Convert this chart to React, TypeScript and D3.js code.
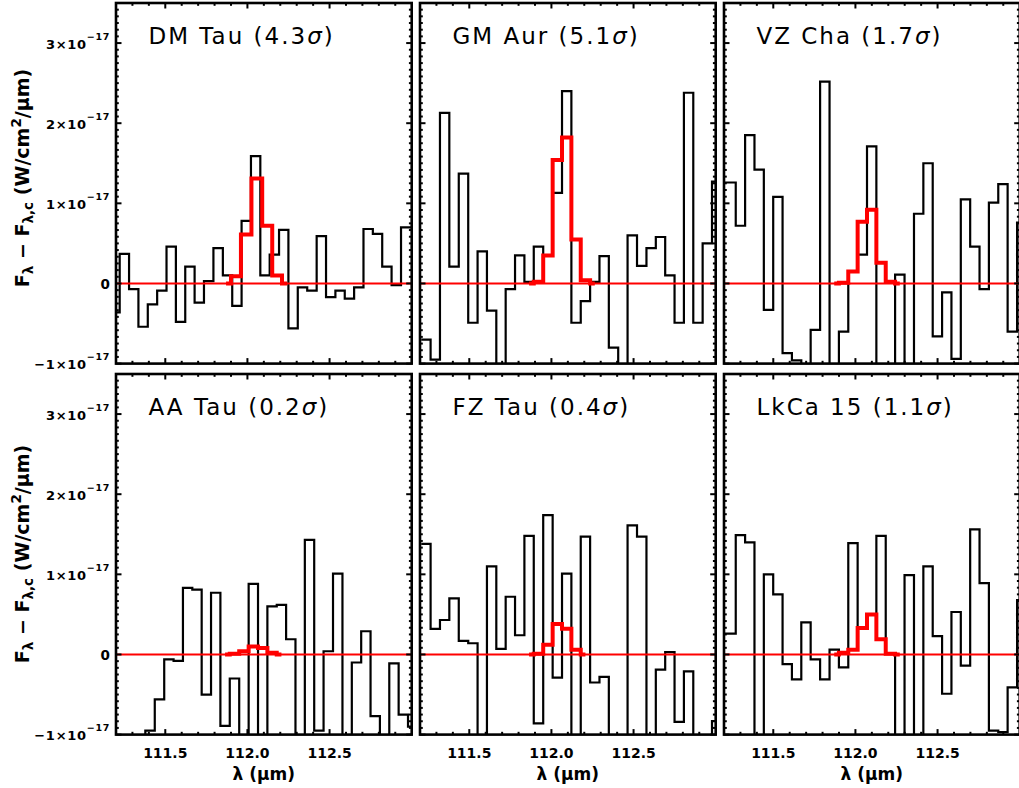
import React from "react";
import * as d3 from "d3";

// ---------- data (flux in units of 1e-17 W/cm^2/um) ----------
const waveDMTau = [111.194, 111.251, 111.308, 111.365, 111.422, 111.479, 111.536, 111.593, 111.650, 111.707, 111.764, 111.822, 111.879, 111.936, 111.993, 112.050, 112.107, 112.164, 112.221, 112.278, 112.335, 112.393, 112.450, 112.507, 112.564, 112.621, 112.678, 112.735, 112.792, 112.849, 112.906, 112.964, 113.021];
const fluxDMTau = [-0.36, 0.37, -0.07, -0.54, -0.26, -0.09, 0.46, -0.48, 0.21, -0.24, 0.03, 0.44, 0.10, -0.28, 0.78, 1.59, 0.10, 0.36, 0.67, -0.56, -0.05, -0.09, 0.59, -0.17, -0.09, -0.19, -0.05, 0.68, 0.62, 0.21, -0.02, 0.70, 0.70];
const modelWaveDMTau = [111.870, 111.930, 111.991, 112.058, 112.122, 112.180, 112.241];
const modelDMTau = [0, 0.09, 0.61, 1.31, 0.72, 0.10, 0];

const waveGridA = [111.236, 111.293, 111.350, 111.407, 111.465, 111.522, 111.579, 111.636, 111.693, 111.750, 111.807, 111.864, 111.921, 111.979, 112.036, 112.093, 112.150, 112.207, 112.264, 112.321, 112.378, 112.435, 112.492, 112.550, 112.607, 112.664, 112.721, 112.778, 112.835, 112.892, 112.949, 113.006];
const fluxGMAur = [-0.70, -0.95, 2.13, 0.21, 1.37, -0.49, 0.40, -0.34, -1.30, -0.07, 0.35, 0.02, 0.46, 0.35, 1.13, 2.40, -0.49, -0.22, 0.02, 0.34, -0.80, -1.30, 0.60, 0.22, 0.44, 0.58, 0.10, -0.49, 2.38, -0.49, 0.50, 1.27];
const modelWaveGMAur = [111.864, 111.921, 111.979, 112.036, 112.093, 112.150, 112.207, 112.264];
const modelGMAur = [0, 0.02, 0.35, 1.54, 1.82, 0.55, 0.04, 0];

const waveGridB = [111.185, 111.243, 111.300, 111.357, 111.414, 111.471, 111.528, 111.585, 111.642, 111.699, 111.756, 111.814, 111.871, 111.928, 111.985, 112.042, 112.099, 112.156, 112.213, 112.270, 112.328, 112.385, 112.442, 112.499, 112.556, 112.613, 112.670, 112.727, 112.784, 112.841, 112.898, 112.955, 113.013];
const fluxVZCha = [1.26, 1.26, 0.72, 1.85, 1.42, -0.33, 1.08, -0.87, -0.96, -1.20, -0.58, 2.52, -1.30, -0.60, 0.15, 0.36, 1.71, -1.30, -1.20, 0.11, -1.30, 0.87, 1.50, -0.66, -0.11, -0.94, 1.05, 0.46, -0.07, 1.01, 1.24, -0.60, 0.76];
const modelWaveVZCha = [111.871, 111.928, 111.985, 112.042, 112.099, 112.156, 112.213, 112.270];
const modelVZCha = [0, 0.01, 0.15, 0.77, 0.92, 0.26, 0.02, 0];

const fluxAATau = [-1.30, -1.30, -1.30, -0.95, -0.56, -0.06, -0.08, 0.83, 0.81, -0.50, 0.77, -0.89, -0.30, -1.20, 0.88, -1.20, 0.60, 0.62, 0.19, -1.20, 1.43, -0.95, 0.04, 1.01, -1.20, -0.10, 0.29, -0.77, -1.20, -0.11, -0.75, -0.90];
const modelWaveAATau = [111.864, 111.921, 111.979, 112.036, 112.093, 112.150, 112.207];
const modelAATau = [0, 0.01, 0.04, 0.10, 0.08, 0.02, 0];

const fluxFZTau = [1.38, 0.32, 0.43, 0.70, 0.17, 0.14, -1.20, 1.10, 0.07, 0.72, 0.24, 1.48, -0.86, 1.74, -0.29, 1.01, -1.20, 1.47, -0.35, -0.28, -1.20, -1.20, 1.61, 1.47, -1.20, -0.19, 0.03, -0.84, -0.21, -1.20, -1.20, -0.83];
const modelWaveFZTau = [111.864, 111.921, 111.979, 112.036, 112.093, 112.150, 112.207];
const modelFZTau = [0, 0.01, 0.12, 0.38, 0.32, 0.06, 0];

const fluxLkCa15 = [0.26, 0.26, 1.49, 1.40, -1.20, 1.00, 0.75, -0.12, -0.31, 0.40, -0.06, -0.31, 0.06, -0.16, 1.39, 0.33, 0.50, 1.48, 0.01, -1.20, 0.99, -1.20, 1.10, 0.23, -0.49, 0.53, -0.14, 1.56, 0.89, -0.95, -0.97, -0.41, 0.68];
const modelWaveLkCa15 = [111.871, 111.928, 111.985, 112.042, 112.099, 112.156, 112.213, 112.270];
const modelLkCa15 = [0, 0.02, 0.06, 0.33, 0.50, 0.19, 0.01, 0];

const starNames = ["DM Tau", "GM Aur", "VZ Cha", "AA Tau", "FZ Tau", "LkCa 15"];
const significance = ["4.3", "5.1", "1.7", "0.2", "0.4", "1.1"];
const panelWaves = [waveDMTau, waveGridA, waveGridB, waveGridA, waveGridA, waveGridB];
const panelFluxes = [fluxDMTau, fluxGMAur, fluxVZCha, fluxAATau, fluxFZTau, fluxLkCa15];
const panelModelWaves = [modelWaveDMTau, modelWaveGMAur, modelWaveVZCha, modelWaveAATau, modelWaveFZTau, modelWaveLkCa15];
const panelModels = [modelDMTau, modelGMAur, modelVZCha, modelAATau, modelFZTau, modelLkCa15];

const xTicks = [111.5, 112.0, 112.5];
const xTickLabels = ["111.5", "112.0", "112.5"];
const yTicks = [-1, 0, 1, 2, 3];

// ---------- layout ----------
const W = 1019;
const H = 788;
const colLeft = [116, 420, 724];
const rowTop = [3, 374];
const panelW = 295.7;
const panelH = 360.6;
const xDomain = [111.2, 113.0];
const yDomain = [-1, 3.5];
const xMinor = d3.range(1, 18).filter((k) => k % 5 !== 3).map((k) => 111.2 + k * 0.1);
const yMinor = d3.range(1, 54).filter((k) => k % 12 !== 0).map((k) => -1 + k / 12);
const titleCenterY = [178, 554];

function histPoints(w: number[], v: number[]): [number, number][] {
  const n = w.length;
  const edges: number[] = [w[0] - (w[1] - w[0]) / 2];
  for (let i = 1; i < n; i++) edges.push((w[i - 1] + w[i]) / 2);
  edges.push(w[n - 1] + (w[n - 1] - w[n - 2]) / 2);
  const pts: [number, number][] = v.map((val, i) => [edges[i], val]);
  pts.push([edges[n], v[n - 1]]);
  return pts;
}

function YLabel({ v, x, y }: { v: number; x: number; y: number }) {
  if (v === 0) {
    return (
      <text x={x} y={y + 5.5} textAnchor="end" fontWeight="bold" fontSize={13.5}>
        0
      </text>
    );
  }
  const mant = v < 0 ? `\u2212${Math.abs(v)}` : `${v}`;
  return (
    <text x={x} y={y + 5.5} textAnchor="end" fontWeight="bold" fontSize={13} letterSpacing={0.7}>
      <tspan>{mant}×10</tspan>
      <tspan dy={-9} fontSize={9.5}>
        {"\u221217"}
      </tspan>
    </text>
  );
}

function Panel({ i }: { i: number }) {
  const col = i % 3;
  const row = Math.floor(i / 3);
  const left = colLeft[col];
  const top = rowTop[row];
  const right = left + panelW;
  const bottom = top + panelH;
  const x = d3.scaleLinear().domain(xDomain).range([left, right]);
  const y = d3.scaleLinear().domain(yDomain).range([bottom, top]);

  const histLine = d3
    .line<[number, number]>()
    .x((d) => x(d[0]))
    .y((d) => y(d[1]))
    .curve(d3.curveStepAfter);
  const modelLine = d3
    .line<[number, number]>()
    .x((d) => x(d[0]))
    .y((d) => y(d[1]))
    .curve(d3.curveStep);

  const histD = histLine(histPoints(panelWaves[i], panelFluxes[i])) || "";
  const modelD =
    modelLine(panelModelWaves[i].map((w, k) => [w, panelModels[i][k]] as [number, number])) || "";
  const clipId = `clip-panel-${i}`;
  const majorLen = 5.5;
  const minorLen = 2.8;

  return (
    <g>
      <defs>
        <clipPath id={clipId}>
          <rect x={left} y={top} width={panelW} height={panelH} />
        </clipPath>
      </defs>
      <g clipPath={`url(#${clipId})`}>
        <path d={histD} fill="none" stroke="#000" strokeWidth={2.2} strokeLinejoin="miter" />
        <line x1={left} x2={right} y1={y(0)} y2={y(0)} stroke="#ff0000" strokeWidth={2} />
        <path d={modelD} fill="none" stroke="#ff0000" strokeWidth={4} strokeLinejoin="miter" />
      </g>
      {/* ticks */}
      <g stroke="#000" strokeWidth={2}>
        {xTicks.map((t) => (
          <g key={`xt${t}`}>
            <line x1={x(t)} x2={x(t)} y1={bottom} y2={bottom - majorLen} />
            <line x1={x(t)} x2={x(t)} y1={top} y2={top + majorLen} />
          </g>
        ))}
        {xMinor.map((t) => (
          <g key={`xm${t}`}>
            <line x1={x(t)} x2={x(t)} y1={bottom} y2={bottom - minorLen} />
            <line x1={x(t)} x2={x(t)} y1={top} y2={top + minorLen} />
          </g>
        ))}
        {yTicks.map((t) => (
          <g key={`yt${t}`}>
            <line x1={left} x2={left + majorLen} y1={y(t)} y2={y(t)} />
            <line x1={right} x2={right - majorLen} y1={y(t)} y2={y(t)} />
          </g>
        ))}
        {yMinor.map((t) => (
          <g key={`ym${t}`}>
            <line x1={left} x2={left + minorLen} y1={y(t)} y2={y(t)} />
            <line x1={right} x2={right - minorLen} y1={y(t)} y2={y(t)} />
          </g>
        ))}
      </g>
      <rect x={left} y={top} width={panelW} height={panelH} fill="none" stroke="#000" strokeWidth={2.6} />
      {/* title */}
      <text x={left + 32.5} y={top + 40.5} fontSize={23} letterSpacing={2} fill="#000">
        {starNames[i]} ({significance[i]}
        <tspan fontStyle="italic">σ</tspan>)
      </text>
      {/* y axis labels */}
      {col === 0 &&
        yTicks.map((t) => <YLabel key={`yl${t}`} v={t} x={left - 6} y={y(t)} />)}
      {col === 0 && (
        <text
          transform={`translate(28.5, ${titleCenterY[row]}) rotate(-90)`}
          textAnchor="middle"
          fontWeight="bold"
          fontSize={19}
        >
          F<tspan fontSize={13.5} dy={4.5}>λ</tspan>
          <tspan dy={-4.5}> − F</tspan>
          <tspan fontSize={13.5} dy={4.5}>λ,c</tspan>
          <tspan dy={-4.5}> (W/cm</tspan>
          <tspan fontSize={13.5} dy={-8}>2</tspan>
          <tspan dy={8}>/µm)</tspan>
        </text>
      )}
      {/* x axis labels */}
      {row === 1 &&
        xTicks.map((t, k) => (
          <text key={`xl${t}`} x={x(t)} y={758} textAnchor="middle" fontWeight="bold" fontSize={14}>
            {xTickLabels[k]}
          </text>
        ))}
      {row === 1 && (
        <text x={(left + right) / 2} y={780} textAnchor="middle" fontWeight="bold" fontSize={17}>
          λ (µm)
        </text>
      )}
    </g>
  );
}

export default function App() {
  return (
    <svg
      width={W}
      height={H}
      viewBox={`0 0 ${W} ${H}`}
      style={{ position: "absolute", left: 0, top: 0, background: "#fff" }}
      fontFamily="'DejaVu Sans', sans-serif"
    >
      <rect x={0} y={0} width={W} height={H} fill="#fff" />
      {starNames.map((_, i) => (
        <Panel key={i} i={i} />
      ))}
    </svg>
  );
}
